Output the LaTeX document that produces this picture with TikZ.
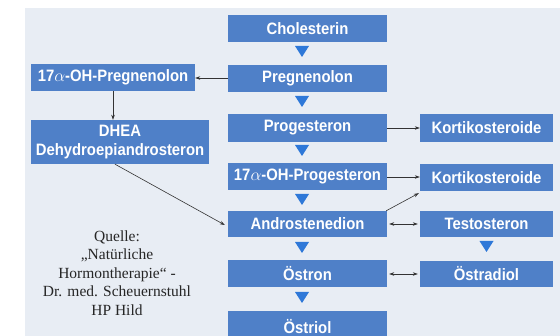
\documentclass[tikz,border=0pt]{standalone}
\usepackage{fontspec}
\setmainfont{Liberation Serif}
\newfontfamily\boxfont[FakeStretch=0.9]{Liberation Sans}
\usetikzlibrary{arrows.meta}
\definecolor{bg}{HTML}{E8EDF4}
\definecolor{boxblue}{HTML}{4F80C8}
\definecolor{triblue}{HTML}{2E78D8}
\definecolor{arr}{HTML}{333333}
\tikzset{
  hbox/.style={fill=boxblue, draw=none, inner sep=0pt, text=white,
    font=\boxfont\bfseries\fontsize{16.5}{18}\selectfont, align=center},
  conn/.style={draw=arr, line width=0.6pt, -{Stealth[length=5pt,width=3.5pt]}},
  bconn/.style={draw=arr, line width=0.6pt, {Stealth[length=5pt,width=3.5pt]}-{Stealth[length=5pt,width=3.5pt]}},
  tri/.style={fill=triblue, draw=none}
}
\newcommand{\hbx}[6]{\node[hbox, minimum width={#4-#2}, minimum height={#5-#3}] (#1) at ({(#2+#4)/2},{(#3+#5)/2}) {#6};}
\newcommand{\dtri}[3]{\fill[tri] (#1-7,#2) -- (#1+7,#2) -- (#1,#2+#3) -- cycle;}
\begin{document}
\begin{tikzpicture}[x=1pt,y=-1pt]
\useasboundingbox (0,0) rectangle (560,336);
\fill[white] (0,0) rectangle (560,336);
\fill[bg] (25,8) rectangle (560,336);
\begin{scope}
\clip (0,0) rectangle (560,336);
\hbx{chol}{228}{15}{387}{42}{Cholesterin}
\hbx{preg}{228}{65}{387}{92}{Pregnenolon}
\hbx{prog}{228}{114}{387}{142}{Progesteron}
\hbx{ohprog}{228}{163}{387}{190}{17$\alpha$-OH-Progesteron}
\hbx{andro}{228}{211}{387}{237}{Androstenedion}
\hbx{oestron}{228}{260}{387}{287}{Östron}
\hbx{oestriol}{228}{311}{387}{346}{\raisebox{4pt}{Östriol}}
\hbx{kort1}{420}{114}{553}{142}{Kortikosteroide}
\hbx{kort2}{420}{164}{553}{191}{Kortikosteroide}
\hbx{testo}{420}{211}{553}{237}{Testosteron}
\hbx{oestradiol}{420}{261}{553}{287}{Östradiol}
\hbx{ohpreg}{31}{64}{195}{91}{17$\alpha$-OH-Pregnenolon}
\node[hbox, minimum width=178, minimum height=44, font=\boxfont\bfseries\fontsize{16.5}{19.5}\selectfont] (dhea) at (120,142) {DHEA\\Dehydroepiandrosteron};
\end{scope}
\dtri{302}{46}{11}
\dtri{302}{96}{11}
\dtri{302}{145}{11}
\dtri{302}{194}{11}
\dtri{302}{242}{11}
\dtri{302}{292}{11}
\dtri{486.5}{241}{11}
\draw[conn] (preg.west |- 0,78) -- (ohpreg.east |- 0,78);
\draw[conn] (ohpreg.south -| 113,0) -- (dhea.north -| 113,0);
\draw[conn] (dhea.south -| 115,0) -- ([xshift=-3pt,yshift=-1pt]andro.west);
\draw[conn] (prog.east) -- (kort1.west);
\draw[conn] (ohprog.east |- 0,177) -- (kort2.west |- 0,177);
\draw[conn] ([xshift=-1pt]andro.north east) -- ([xshift=-1pt,yshift=-2pt]kort2.south west);
\draw[bconn] ([xshift=2pt]andro.east |- 0,224) -- ([xshift=-2pt]testo.west |- 0,224);
\draw[bconn] ([xshift=2pt]oestron.east |- 0,274) -- ([xshift=-2pt]oestradiol.west |- 0,274);
\node[align=center, text=black!85, font=\fontsize{15.5}{18.6}\selectfont] (quelle) at (117,273) {Quelle:\\„Natürliche\\Hormontherapie“ -\\Dr. med. Scheuernstuhl\\HP Hild};
\end{tikzpicture}
\end{document}
